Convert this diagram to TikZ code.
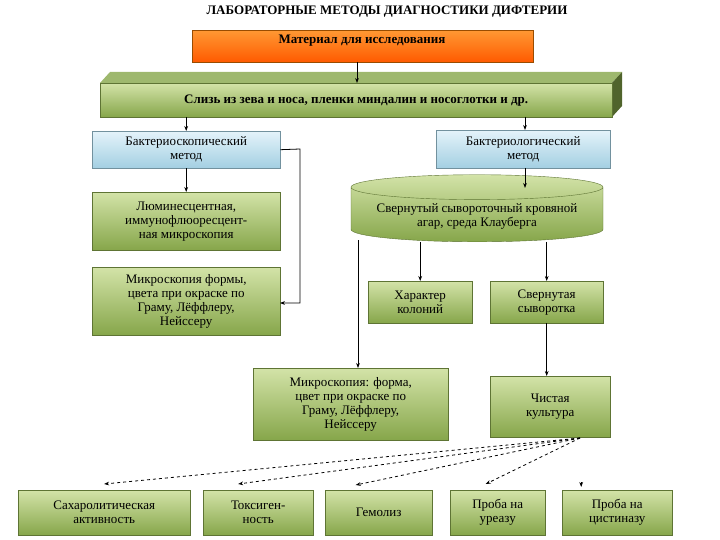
\documentclass[tikz,border=0pt]{standalone}
\usepackage{fontspec}
\setmainfont{Liberation Serif}
\usetikzlibrary{shapes.geometric,arrows.meta}
\definecolor{grnT}{HTML}{D3E3A8}
\definecolor{grnB}{HTML}{86A64A}
\definecolor{bluT}{HTML}{E4F3FA}
\definecolor{bluB}{HTML}{A3CFE2}
\tikzset{
  gbox/.style={draw=grnB!70!black,top color=grnT,bottom color=grnB,align=center,font=\fontsize{13}{14}\selectfont,inner sep=2pt},
  bbox/.style={draw=bluB!70!black,top color=bluT,bottom color=bluB,align=center,font=\fontsize{13}{14}\selectfont,inner sep=2pt},
  arr/.style={-{Stealth[length=5pt]},line width=0.8pt,draw=black},
  darr/.style={arr,dashed}
}
\begin{document}
\begin{tikzpicture}[x=1pt,y=-1pt]
\useasboundingbox (0,0) rectangle (720,540);
\node[font=\bfseries\fontsize{13}{14}\selectfont] (title) at (387,12) {ЛАБОРАТОРНЫЕ МЕТОДЫ ДИАГНОСТИКИ ДИФТЕРИИ};
\node[draw=orange!60!black,top color=orange!80,bottom color=orange!70!red,minimum width=341pt,minimum height=32pt,anchor=north west] (mat) at (192,30) {};
\node[font=\bfseries\fontsize{13}{14}\selectfont] at (362,41) {Материал для исследования};
% green bar with top face
\fill[grnB!80] (100,83) -- (110,72) -- (622,72) -- (612,83) -- cycle;
\fill[grnB!60!black] (612,83) -- (622,72) -- (622,106) -- (612,117) -- cycle;
\node[gbox,minimum width=512pt,minimum height=34pt,anchor=north west,font=\bfseries\fontsize{13}{14}\selectfont] (sliz) at (100,83) {Слизь из зева и носа, пленки миндалин и носоглотки и др.};
\node[bbox,minimum width=188pt,minimum height=37pt,anchor=north west] (bsk) at (92,131) {Бактериоскопический\\метод};
\node[bbox,minimum width=174pt,minimum height=38pt,anchor=north west] (bgl) at (436,130) {Бактериологический\\метод};
\node[gbox,minimum width=188pt,minimum height=58pt,anchor=north west] (lum) at (92,192) {Люминесцентная,\\иммунофлюоресцент-\\ная микроскопия};
\node[gbox,minimum width=188pt,minimum height=68pt,anchor=north west] (mikl) at (92,267) {Микроскопия формы,\\цвета при окраске по\\Граму, Лёффлеру,\\Нейссеру};
\node[cylinder,shape border rotate=90,aspect=0.12,draw=grnB!70!black,top color=grnT,bottom color=grnB,minimum width=252pt,minimum height=62pt,align=center,font=\fontsize{13}{14}\selectfont] (agar) at (477,216) {Свернутый сывороточный кровяной\\агар, среда Клауберга};
\node[gbox,minimum width=104pt,minimum height=42pt,anchor=north west] (har) at (368,281) {Характер\\колоний};
\node[gbox,minimum width=113pt,minimum height=42pt,anchor=north west] (svs) at (490,281) {Свернутая\\сыворотка};
\node[gbox,minimum width=195pt,minimum height=72pt,anchor=north west] (mikr) at (253,368) {Микроскопия: форма,\\цвет при окраске по\\Граму, Лёффлеру,\\Нейссеру};
\node[gbox,minimum width=120pt,minimum height=61pt,anchor=north west] (kult) at (490,376) {Чистая\\культура};
\node[gbox,minimum width=172pt,minimum height=45pt,anchor=north west] (sah) at (18,490) {Сахаролитическая\\активность};
\node[gbox,minimum width=110pt,minimum height=45pt,anchor=north west] (tox) at (203,490) {Токсиген-\\ность};
\node[gbox,minimum width=107pt,minimum height=45pt,anchor=north west] (gem) at (325,490) {Гемолиз};
\node[gbox,minimum width=95pt,minimum height=45pt,anchor=north west] (ure) at (450,490) {Проба на\\уреазу};
\node[gbox,minimum width=110pt,minimum height=45pt,anchor=north west] (cis) at (562,490) {Проба на\\цистиназу};
\coordinate (src) at (580,438);
\coordinate (bend) at (300,149);
\coordinate (micin) at (280,303);
% connectors
\draw[arr] (357,62) -- (357,83);
\draw[arr] (sliz.south -| bsk.north) -- (bsk.north);
\draw[arr] (525,117) -- (525,130);
\draw[arr] (bsk.south) -- (lum.north);
\draw[arr] (bsk.east) -- (bend) |- (micin);
\draw[arr] (525,168) -- (525,188);
\draw[arr] (har.north |- agar.south) -- (har.north);
\draw[arr] (svs.north |- agar.south) -- (svs.north);
\draw[arr] (358,240) -- (358,368);
\draw[arr] (svs.south) -- (kult.north -| svs.south);
\draw[darr] (src) -- ([yshift=6pt]sah.north);
\draw[darr] (src) -- ([xshift=-20pt,yshift=6pt]tox.north);
\draw[darr] (src) -- ([xshift=-23pt,yshift=5pt]gem.north);
\draw[darr] (src) -- ([xshift=-12pt,yshift=6pt]ure.north);
\draw[arr] ([xshift=-36pt,yshift=8pt]cis.north) -- ([xshift=-36pt,yshift=3pt]cis.north);
\end{tikzpicture}
\end{document}
